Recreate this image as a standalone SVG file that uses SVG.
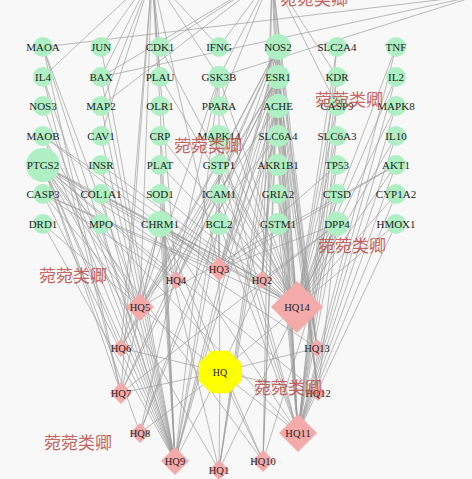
<svg xmlns="http://www.w3.org/2000/svg" width="472" height="479" viewBox="0 0 472 479">
<style>
.bg{fill:#f8f8f8}
.e line{stroke:#9a9a9a;stroke-width:0.8;stroke-opacity:0.85}
.t circle{fill:#aef0c4}
.t text{font-family:"Liberation Serif",serif;font-size:11px;fill:#222;text-anchor:middle}
.c polygon{fill:#f5aaaa}
.c text{font-family:"Liberation Serif",serif;font-size:10.5px;fill:#222;text-anchor:middle}
.h polygon{fill:#ffff00}
.w{font-family:"Noto Sans CJK SC","Noto Sans",sans-serif;font-size:17px;fill:#c0504d;fill-opacity:0.9}
</style>
<rect class="bg" x="0" y="0" width="472" height="479"/>
<g id="connectors" class="e">
<!-- HQ to compounds -->
<line x1="220" y1="372" x2="219" y2="470"/><line x1="220" y1="372" x2="262" y2="280"/><line x1="220" y1="372" x2="219" y2="269"/><line x1="220" y1="372" x2="176" y2="280"/><line x1="220" y1="372" x2="140" y2="307"/><line x1="220" y1="372" x2="121" y2="348"/><line x1="220" y1="372" x2="121" y2="393"/><line x1="220" y1="372" x2="140" y2="433"/><line x1="220" y1="372" x2="175" y2="461"/><line x1="220" y1="372" x2="263" y2="461"/><line x1="220" y1="372" x2="298" y2="433"/><line x1="220" y1="372" x2="318" y2="393"/><line x1="220" y1="372" x2="317" y2="348"/><line x1="220" y1="372" x2="297" y2="307"/>
<!-- HQ14 -->
<line x1="297" y1="307" x2="396" y2="47"/><line x1="297" y1="307" x2="396" y2="77"/><line x1="297" y1="307" x2="396" y2="106"/><line x1="297" y1="307" x2="396" y2="136"/><line x1="297" y1="307" x2="396" y2="165"/><line x1="297" y1="307" x2="396" y2="194"/><line x1="297" y1="307" x2="396" y2="224"/><line x1="297" y1="307" x2="337" y2="224"/><line x1="297" y1="307" x2="337" y2="194"/><line x1="297" y1="307" x2="337" y2="165"/><line x1="297" y1="307" x2="337" y2="136"/><line x1="297" y1="307" x2="337" y2="106"/><line x1="297" y1="307" x2="337" y2="77"/><line x1="297" y1="307" x2="337" y2="47"/><line x1="297" y1="307" x2="278" y2="47"/><line x1="297" y1="307" x2="278" y2="77"/><line x1="297" y1="307" x2="278" y2="106"/><line x1="297" y1="307" x2="278" y2="136"/><line x1="297" y1="307" x2="278" y2="165"/><line x1="297" y1="307" x2="278" y2="194"/><line x1="297" y1="307" x2="278" y2="224"/><line x1="297" y1="307" x2="219" y2="224"/><line x1="297" y1="307" x2="219" y2="194"/><line x1="297" y1="307" x2="219" y2="165"/><line x1="297" y1="307" x2="219" y2="136"/><line x1="297" y1="307" x2="219" y2="106"/><line x1="297" y1="307" x2="219" y2="77"/><line x1="297" y1="307" x2="160" y2="47"/><line x1="297" y1="307" x2="43" y2="165"/><line x1="297" y1="307" x2="43" y2="194"/><line x1="297" y1="307" x2="101" y2="194"/><line x1="297" y1="307" x2="101" y2="165"/><line x1="297" y1="307" x2="43" y2="136"/><line x1="297" y1="307" x2="160" y2="224"/><line x1="297" y1="307" x2="160" y2="194"/><line x1="297" y1="307" x2="160" y2="165"/><line x1="297" y1="307" x2="160" y2="136"/><line x1="297" y1="307" x2="160" y2="77"/>
<!-- HQ11 -->
<line x1="298" y1="433" x2="396" y2="47"/><line x1="298" y1="433" x2="396" y2="77"/><line x1="298" y1="433" x2="396" y2="106"/><line x1="298" y1="433" x2="396" y2="136"/><line x1="298" y1="433" x2="396" y2="165"/><line x1="298" y1="433" x2="396" y2="194"/><line x1="298" y1="433" x2="396" y2="224"/><line x1="298" y1="433" x2="337" y2="224"/><line x1="298" y1="433" x2="337" y2="194"/><line x1="298" y1="433" x2="337" y2="165"/><line x1="298" y1="433" x2="337" y2="136"/><line x1="298" y1="433" x2="337" y2="106"/><line x1="298" y1="433" x2="337" y2="47"/><line x1="298" y1="433" x2="337" y2="77"/><line x1="298" y1="433" x2="278" y2="47"/><line x1="298" y1="433" x2="278" y2="77"/><line x1="298" y1="433" x2="278" y2="106"/><line x1="298" y1="433" x2="278" y2="136"/><line x1="298" y1="433" x2="278" y2="224"/><line x1="298" y1="433" x2="278" y2="194"/><line x1="298" y1="433" x2="278" y2="165"/><line x1="298" y1="433" x2="219" y2="224"/><line x1="298" y1="433" x2="219" y2="194"/><line x1="298" y1="433" x2="43" y2="165"/><line x1="298" y1="433" x2="219" y2="165"/><line x1="298" y1="433" x2="160" y2="224"/><line x1="298" y1="433" x2="219" y2="136"/>
<!-- HQ9 -->
<line x1="175" y1="461" x2="43" y2="165"/><line x1="175" y1="461" x2="43" y2="47"/><line x1="175" y1="461" x2="43" y2="136"/><line x1="175" y1="461" x2="43" y2="106"/><line x1="175" y1="461" x2="43" y2="77"/><line x1="175" y1="461" x2="43" y2="194"/><line x1="175" y1="461" x2="43" y2="224"/><line x1="175" y1="461" x2="101" y2="224"/><line x1="175" y1="461" x2="101" y2="194"/><line x1="175" y1="461" x2="101" y2="165"/><line x1="175" y1="461" x2="101" y2="136"/><line x1="175" y1="461" x2="101" y2="106"/><line x1="175" y1="461" x2="101" y2="77"/><line x1="175" y1="461" x2="101" y2="47"/><line x1="175" y1="461" x2="160" y2="224"/><line x1="175" y1="461" x2="160" y2="194"/><line x1="175" y1="461" x2="160" y2="165"/><line x1="175" y1="461" x2="160" y2="136"/><line x1="175" y1="461" x2="278" y2="47"/><line x1="175" y1="461" x2="278" y2="77"/><line x1="175" y1="461" x2="278" y2="106"/><line x1="175" y1="461" x2="219" y2="77"/><line x1="175" y1="461" x2="219" y2="194"/><line x1="175" y1="461" x2="219" y2="224"/><line x1="175" y1="461" x2="160" y2="106"/>
<!-- HQ5 -->
<line x1="140" y1="307" x2="43" y2="165"/><line x1="140" y1="307" x2="278" y2="47"/><line x1="140" y1="307" x2="278" y2="77"/><line x1="140" y1="307" x2="160" y2="224"/><line x1="140" y1="307" x2="278" y2="106"/><line x1="140" y1="307" x2="43" y2="47"/><line x1="140" y1="307" x2="43" y2="136"/><line x1="140" y1="307" x2="43" y2="224"/><line x1="140" y1="307" x2="43" y2="194"/><line x1="140" y1="307" x2="219" y2="77"/><line x1="140" y1="307" x2="278" y2="136"/><line x1="140" y1="307" x2="152" y2="-25"/><line x1="140" y1="307" x2="396" y2="165"/>
<!-- HQ3 -->
<line x1="219" y1="269" x2="43" y2="165"/><line x1="219" y1="269" x2="278" y2="47"/><line x1="219" y1="269" x2="278" y2="77"/><line x1="219" y1="269" x2="278" y2="106"/><line x1="219" y1="269" x2="160" y2="224"/><line x1="219" y1="269" x2="219" y2="77"/><line x1="219" y1="269" x2="219" y2="136"/><line x1="219" y1="269" x2="219" y2="224"/><line x1="219" y1="269" x2="43" y2="194"/><line x1="219" y1="269" x2="396" y2="165"/><line x1="219" y1="269" x2="337" y2="165"/><line x1="219" y1="269" x2="337" y2="224"/><line x1="219" y1="269" x2="278" y2="136"/><line x1="219" y1="269" x2="43" y2="136"/><line x1="219" y1="269" x2="152" y2="-25"/>
<!-- HQ4 -->
<line x1="176" y1="280" x2="43" y2="165"/><line x1="176" y1="280" x2="278" y2="47"/><line x1="176" y1="280" x2="278" y2="77"/><line x1="176" y1="280" x2="160" y2="224"/><line x1="176" y1="280" x2="152" y2="-25"/><line x1="176" y1="280" x2="43" y2="194"/>
<!-- HQ2 -->
<line x1="262" y1="280" x2="43" y2="165"/><line x1="262" y1="280" x2="278" y2="47"/><line x1="262" y1="280" x2="278" y2="77"/><line x1="262" y1="280" x2="278" y2="106"/><line x1="262" y1="280" x2="337" y2="224"/><line x1="262" y1="280" x2="272" y2="-25"/><line x1="262" y1="280" x2="101" y2="194"/>
<!-- HQ6 -->
<line x1="121" y1="348" x2="43" y2="165"/><line x1="121" y1="348" x2="278" y2="47"/><line x1="121" y1="348" x2="160" y2="224"/><line x1="121" y1="348" x2="152" y2="-25"/><line x1="121" y1="348" x2="278" y2="77"/>
<!-- HQ7 -->
<line x1="121" y1="393" x2="43" y2="165"/><line x1="121" y1="393" x2="278" y2="47"/><line x1="121" y1="393" x2="278" y2="77"/><line x1="121" y1="393" x2="160" y2="224"/><line x1="121" y1="393" x2="337" y2="224"/><line x1="121" y1="393" x2="152" y2="-25"/><line x1="121" y1="393" x2="43" y2="47"/><line x1="121" y1="393" x2="43" y2="77"/>
<!-- HQ8 -->
<line x1="140" y1="433" x2="43" y2="165"/><line x1="140" y1="433" x2="278" y2="47"/><line x1="140" y1="433" x2="219" y2="77"/><line x1="140" y1="433" x2="278" y2="77"/>
<!-- HQ1 -->
<line x1="219" y1="470" x2="278" y2="47"/><line x1="219" y1="470" x2="278" y2="77"/><line x1="219" y1="470" x2="43" y2="165"/><line x1="219" y1="470" x2="160" y2="224"/><line x1="219" y1="470" x2="337" y2="224"/><line x1="219" y1="470" x2="278" y2="106"/>
<!-- HQ10 -->
<line x1="263" y1="461" x2="278" y2="47"/><line x1="263" y1="461" x2="43" y2="165"/><line x1="263" y1="461" x2="278" y2="77"/><line x1="263" y1="461" x2="160" y2="224"/><line x1="263" y1="461" x2="272" y2="-25"/><line x1="263" y1="461" x2="337" y2="224"/>
<!-- HQ12 -->
<line x1="318" y1="393" x2="278" y2="47"/><line x1="318" y1="393" x2="278" y2="77"/><line x1="318" y1="393" x2="337" y2="224"/><line x1="318" y1="393" x2="272" y2="-25"/><line x1="318" y1="393" x2="43" y2="165"/><line x1="318" y1="393" x2="278" y2="106"/>
<!-- HQ13 -->
<line x1="317" y1="348" x2="278" y2="47"/><line x1="317" y1="348" x2="278" y2="77"/><line x1="317" y1="348" x2="278" y2="106"/><line x1="317" y1="348" x2="43" y2="165"/><line x1="317" y1="348" x2="272" y2="-25"/>
<!-- off-canvas upper nodes -->
<line x1="152" y1="-25" x2="101" y2="47"/><line x1="152" y1="-25" x2="101" y2="77"/><line x1="152" y1="-25" x2="101" y2="106"/><line x1="152" y1="-25" x2="160" y2="47"/><line x1="152" y1="-25" x2="160" y2="77"/><line x1="152" y1="-25" x2="101" y2="136"/><line x1="152" y1="-25" x2="219" y2="47"/><line x1="152" y1="-25" x2="219" y2="77"/><line x1="152" y1="-25" x2="43" y2="77"/><line x1="152" y1="-25" x2="160" y2="106"/>
<line x1="272" y1="-25" x2="219" y2="47"/><line x1="272" y1="-25" x2="219" y2="77"/><line x1="272" y1="-25" x2="160" y2="47"/><line x1="272" y1="-25" x2="278" y2="47"/><line x1="272" y1="-25" x2="278" y2="77"/><line x1="272" y1="-25" x2="278" y2="136"/><line x1="272" y1="-25" x2="337" y2="77"/><line x1="272" y1="-25" x2="337" y2="106"/><line x1="272" y1="-25" x2="101" y2="77"/><line x1="272" y1="-25" x2="101" y2="106"/><line x1="272" y1="-25" x2="219" y2="106"/>
<line x1="480" y1="-5" x2="43" y2="47"/><line x1="480" y1="-5" x2="101" y2="77"/><line x1="480" y1="-5" x2="219" y2="77"/>
</g>
<g class="t">
<g id="MAOA"><circle cx="43" cy="47" r="10"/><text x="43" y="51">MAOA</text></g>
<g id="JUN"><circle cx="101" cy="47" r="10"/><text x="101" y="51">JUN</text></g>
<g id="CDK1"><circle cx="160" cy="47" r="10"/><text x="160" y="51">CDK1</text></g>
<g id="IFNG"><circle cx="219" cy="47" r="10"/><text x="219" y="51">IFNG</text></g>
<g id="NOS2"><circle cx="278" cy="47" r="13"/><text x="278" y="51">NOS2</text></g>
<g id="SLC2A4"><circle cx="337" cy="47" r="10"/><text x="337" y="51">SLC2A4</text></g>
<g id="TNF"><circle cx="396" cy="47" r="10"/><text x="396" y="51">TNF</text></g>
<g id="IL4"><circle cx="43" cy="77" r="10"/><text x="43" y="81">IL4</text></g>
<g id="BAX"><circle cx="101" cy="77" r="10"/><text x="101" y="81">BAX</text></g>
<g id="PLAU"><circle cx="160" cy="77" r="10"/><text x="160" y="81">PLAU</text></g>
<g id="GSK3B"><circle cx="219" cy="77" r="11"/><text x="219" y="81">GSK3B</text></g>
<g id="ESR1"><circle cx="278" cy="77" r="12"/><text x="278" y="81">ESR1</text></g>
<g id="KDR"><circle cx="337" cy="77" r="10"/><text x="337" y="81">KDR</text></g>
<g id="IL2"><circle cx="396" cy="77" r="10"/><text x="396" y="81">IL2</text></g>
<g id="NOS3"><circle cx="43" cy="106" r="10"/><text x="43" y="110">NOS3</text></g>
<g id="MAP2"><circle cx="101" cy="106" r="10"/><text x="101" y="110">MAP2</text></g>
<g id="OLR1"><circle cx="160" cy="106" r="10"/><text x="160" y="110">OLR1</text></g>
<g id="PPARA"><circle cx="219" cy="106" r="10"/><text x="219" y="110">PPARA</text></g>
<g id="ACHE"><circle cx="278" cy="106" r="12"/><text x="278" y="110">ACHE</text></g>
<g id="CASP9"><circle cx="337" cy="106" r="10"/><text x="337" y="110">CASP9</text></g>
<g id="MAPK8"><circle cx="396" cy="106" r="10"/><text x="396" y="110">MAPK8</text></g>
<g id="MAOB"><circle cx="43" cy="136" r="10"/><text x="43" y="140">MAOB</text></g>
<g id="CAV1"><circle cx="101" cy="136" r="10"/><text x="101" y="140">CAV1</text></g>
<g id="CRP"><circle cx="160" cy="136" r="10"/><text x="160" y="140">CRP</text></g>
<g id="MAPK14"><circle cx="219" cy="136" r="11"/><text x="219" y="140">MAPK14</text></g>
<g id="SLC6A4"><circle cx="278" cy="136" r="11"/><text x="278" y="140">SLC6A4</text></g>
<g id="SLC6A3"><circle cx="337" cy="136" r="10"/><text x="337" y="140">SLC6A3</text></g>
<g id="IL10"><circle cx="396" cy="136" r="10"/><text x="396" y="140">IL10</text></g>
<g id="PTGS2"><circle cx="43" cy="165" r="17"/><text x="43" y="169">PTGS2</text></g>
<g id="INSR"><circle cx="101" cy="165" r="10"/><text x="101" y="169">INSR</text></g>
<g id="PLAT"><circle cx="160" cy="165" r="10"/><text x="160" y="169">PLAT</text></g>
<g id="GSTP1"><circle cx="219" cy="165" r="10"/><text x="219" y="169">GSTP1</text></g>
<g id="AKR1B1"><circle cx="278" cy="165" r="11"/><text x="278" y="169">AKR1B1</text></g>
<g id="TP53"><circle cx="337" cy="165" r="10"/><text x="337" y="169">TP53</text></g>
<g id="AKT1"><circle cx="396" cy="165" r="10"/><text x="396" y="169">AKT1</text></g>
<g id="CASP3"><circle cx="43" cy="194" r="10"/><text x="43" y="198">CASP3</text></g>
<g id="COL1A1"><circle cx="101" cy="194" r="10"/><text x="101" y="198">COL1A1</text></g>
<g id="SOD1"><circle cx="160" cy="194" r="10"/><text x="160" y="198">SOD1</text></g>
<g id="ICAM1"><circle cx="219" cy="194" r="10"/><text x="219" y="198">ICAM1</text></g>
<g id="GRIA2"><circle cx="278" cy="194" r="10"/><text x="278" y="198">GRIA2</text></g>
<g id="CTSD"><circle cx="337" cy="194" r="10"/><text x="337" y="198">CTSD</text></g>
<g id="CYP1A2"><circle cx="396" cy="194" r="10"/><text x="396" y="198">CYP1A2</text></g>
<g id="DRD1"><circle cx="43" cy="224" r="10"/><text x="43" y="228">DRD1</text></g>
<g id="MPO"><circle cx="101" cy="224" r="10"/><text x="101" y="228">MPO</text></g>
<g id="CHRM1"><circle cx="160" cy="224" r="13"/><text x="160" y="228">CHRM1</text></g>
<g id="BCL2"><circle cx="219" cy="224" r="11"/><text x="219" y="228">BCL2</text></g>
<g id="GSTM1"><circle cx="278" cy="224" r="11"/><text x="278" y="228">GSTM1</text></g>
<g id="DPP4"><circle cx="337" cy="224" r="12"/><text x="337" y="228">DPP4</text></g>
<g id="HMOX1"><circle cx="396" cy="224" r="10"/><text x="396" y="228">HMOX1</text></g>
</g>
<g class="c">
<g id="HQ14"><polygon points="297,281 323,307 297,333 271,307"/><text x="297" y="311">HQ14</text></g>
<g id="HQ11"><polygon points="298,414 317,433 298,452 279,433"/><text x="298" y="437">HQ11</text></g>
<g id="HQ9"><polygon points="175,447 189,461 175,475 161,461"/><text x="175" y="465">HQ9</text></g>
<g id="HQ5"><polygon points="140,293 154,307 140,321 126,307"/><text x="140" y="311">HQ5</text></g>
<g id="HQ3"><polygon points="219,257 231,269 219,281 207,269"/><text x="219" y="273">HQ3</text></g>
<g id="HQ10"><polygon points="263,450 274,461 263,472 252,461"/><text x="263" y="465">HQ10</text></g>
<g id="HQ1"><polygon points="219,460 229,470 219,480 209,470"/><text x="219" y="474">HQ1</text></g>
<g id="HQ7"><polygon points="121,382 132,393 121,404 110,393"/><text x="121" y="397">HQ7</text></g>
<g id="HQ8"><polygon points="140,423 150,433 140,443 130,433"/><text x="140" y="437">HQ8</text></g>
<g id="HQ4"><polygon points="176,271 185,280 176,289 167,280"/><text x="176" y="284">HQ4</text></g>
<g id="HQ2"><polygon points="262,271 271,280 262,289 253,280"/><text x="262" y="284">HQ2</text></g>
<g id="HQ6"><polygon points="121,339 130,348 121,357 112,348"/><text x="121" y="352">HQ6</text></g>
<g id="HQ13"><polygon points="317,339 326,348 317,357 308,348"/><text x="317" y="352">HQ13</text></g>
<g id="HQ12"><polygon points="318,385 326,393 318,401 310,393"/><text x="318" y="397">HQ12</text></g>
</g>
<g class="h" id="HQ"><polygon points="241.25,363.2 241.25,380.8 228.8,393.25 211.2,393.25 198.75,380.8 198.75,363.2 211.2,350.75 228.8,350.75"/><text x="220" y="376" style="font-family:'Liberation Serif',serif;font-size:10px;fill:#222;text-anchor:middle">HQ</text></g>
<g id="watermarks">
<text class="w" x="280" y="5">菀菀类卿</text>
<text class="w" x="315" y="106">菀菀类卿</text>
<text class="w" x="174" y="152">菀菀类卿</text>
<text class="w" x="318" y="252">菀菀类卿</text>
<text class="w" x="39" y="282">菀菀类卿</text>
<text class="w" x="254" y="394">菀菀类卿</text>
<text class="w" x="44" y="449">菀菀类卿</text>
</g>
</svg>
